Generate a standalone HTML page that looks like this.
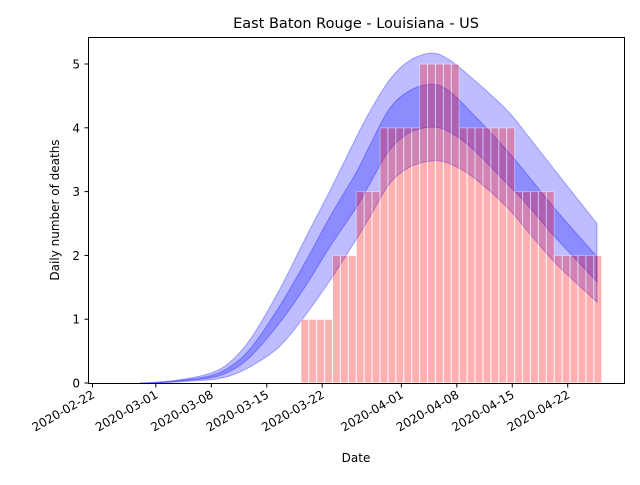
<!DOCTYPE html>
<html><head><meta charset="utf-8"><style>
body{margin:0;background:#fff;}
svg text{font-family:"DejaVu Sans","Liberation Sans",sans-serif;fill:#000;}
</style></head><body>
<svg id="chart" width="640" height="480" viewBox="0 0 640 480" xmlns="http://www.w3.org/2000/svg">
<rect width="640" height="480" fill="#fff"/>
<text x="356" y="28" font-size="14.5" text-anchor="middle">East Baton Rouge - Louisiana - US</text>
<g id="bands"></g>
<g id="bars"></g>
<rect x="88.5" y="37.5" width="536" height="346" fill="none" stroke="#000" stroke-width="1"/>
<g id="xticks"></g>
<g id="yticks"></g>
<text x="356" y="462" font-size="12" text-anchor="middle">Date</text>
<text transform="translate(59,210) rotate(-90)" font-size="12" text-anchor="middle">Daily number of deaths</text>
</svg>
<script>
// days since 2020-02-22
const barDays = [27,28,29,30,31,32,33,34,35,36,37,38,39,40,41,42,43,44,45,46,47,48,49,50,51,52,53,54,55,56,57,58,59,60,61,62,63,64];
const barValues = [1,1,1,1,2,2,2,3,3,3,4,4,4,4,4,5,5,5,5,5,4,4,4,4,4,4,4,3,3,3,3,3,2,2,2,2,2,2];
const curveDays = [6,8,11,14.8,17.3,20,23.6,26.8,30,33.3,35,37.5,40,42.8,45,48,52.3,55,58.6,63.7];
const outerUpper = [0,0.01,0.05,0.15,0.32,0.7,1.46,2.25,3.02,3.85,4.25,4.75,5.05,5.17,5.07,4.77,4.28,3.87,3.3,2.5];
const innerUpper = [0,0.01,0.04,0.11,0.25,0.55,1.2,1.88,2.61,3.3,3.72,4.3,4.58,4.68,4.58,4.22,3.65,3.25,2.7,1.98];
const innerLower = [0,0.005,0.03,0.08,0.18,0.42,0.94,1.5,2.14,2.75,3.12,3.65,3.92,4.01,3.94,3.67,3.13,2.78,2.26,1.59];
const outerLower = [0,0.003,0.02,0.05,0.11,0.26,0.57,1.05,1.61,2.25,2.6,3.12,3.38,3.48,3.44,3.23,2.76,2.37,1.86,1.27];
const yTicks = [0,1,2,3,4,5];
const xTickDays = [0,8,15,22,29,39,46,53,60];
const xTickLabels = ["2020-02-22","2020-03-01","2020-03-08","2020-03-15","2020-03-22","2020-04-01","2020-04-08","2020-04-15","2020-04-22"];

const NS="http://www.w3.org/2000/svg";
const X = d => 92.5 + d*7.92;
const Y = v => 383 - v*63.8;
function mk(t,a){const e=document.createElementNS(NS,t);for(const k in a)e.setAttribute(k,a[k]);return e;}

function smooth(pts){
  let s="";
  for(let i=0;i<pts.length-1;i++){
    const p0=pts[Math.max(0,i-1)],p1=pts[i],p2=pts[i+1],p3=pts[Math.min(pts.length-1,i+2)];
    const c1=[p1[0]+(p2[0]-p0[0])/6,p1[1]+(p2[1]-p0[1])/6];
    const c2=[p2[0]-(p3[0]-p1[0])/6,p2[1]-(p3[1]-p1[1])/6];
    s+=` C${c1[0]},${c1[1]} ${c2[0]},${c2[1]} ${p2[0]},${p2[1]}`;
  }
  return s;
}
function band(up,lo,name){
  const u=curveDays.map((d,i)=>[X(d),Y(up[i])]);
  const l=curveDays.map((d,i)=>[X(d),Y(lo[i])]).reverse();
  const d=`M${u[0][0]},${u[0][1]}`+smooth(u)+` L${l[0][0]},${l[0][1]}`+smooth(l)+"Z";
  const p=mk("path",{d:d,fill:"blue","fill-opacity":"0.26",stroke:"blue","stroke-opacity":"0.3","stroke-width":"1"});
  
  
  document.getElementById("bands").appendChild(p);
}
band(outerUpper,outerLower,'outer-confidence-band');
band(innerUpper,innerLower,'inner-confidence-band');

const bars=document.getElementById("bars");
barDays.forEach((d,i)=>{
  const r=mk("rect",{x:X(d-0.7),y:Y(barValues[i]),width:7.95,height:Y(0)-Y(barValues[i]),fill:"red",stroke:"#fff","stroke-width":"1",opacity:"0.3"});
  
  
  bars.appendChild(r);
});

const yt=document.getElementById("yticks");
yTicks.forEach(v=>{
  const l=mk("line",{x1:84.5,x2:88.5,y1:Y(v),y2:Y(v),stroke:"#000"});
  
  
  yt.appendChild(l);
  const t=mk("text",{x:80,y:Y(v)+4.5,"font-size":"12","text-anchor":"end"});
  t.textContent=v;
  
  
  yt.appendChild(t);
});
const xt=document.getElementById("xticks");
xTickDays.forEach((d,i)=>{
  const x=X(d);
  const l=mk("line",{x1:x,x2:x,y1:383.5,y2:387.5,stroke:"#000"});
  
  
  xt.appendChild(l);
  const t=mk("text",{transform:`translate(${x+3},${397}) rotate(-30)`,"font-size":"12","text-anchor":"end"});
  t.textContent=xTickLabels[i];
  
  
  xt.appendChild(t);
});
</script>
</body></html>
